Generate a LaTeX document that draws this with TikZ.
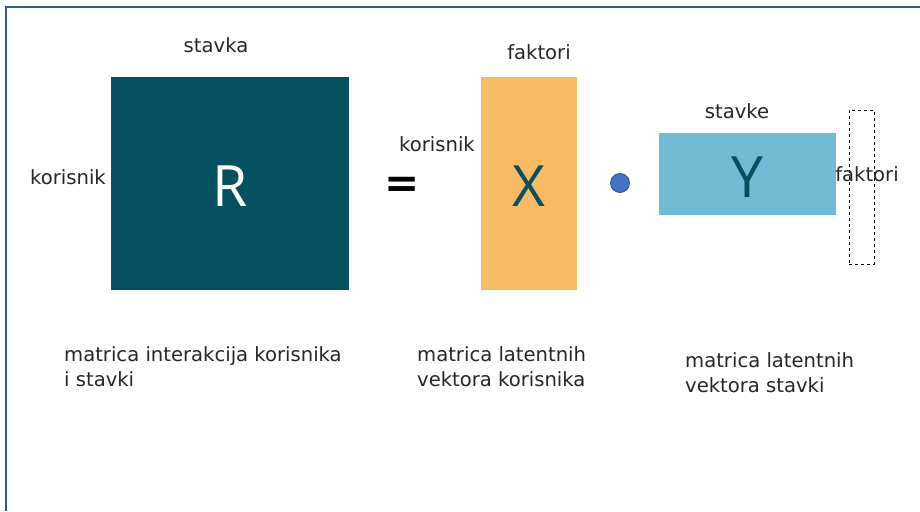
\documentclass[tikz,border=0pt]{standalone}
\usepackage{fontspec}
\setmainfont{DejaVu Sans}
\newfontfamily\bigletter{Open Sans}
\definecolor{frameteal}{HTML}{2F6070}
\definecolor{rteal}{HTML}{03505F}
\definecolor{xorange}{HTML}{F8BA63}
\definecolor{ycyan}{HTML}{70BCD5}
\definecolor{dotblue}{HTML}{4472C4}
\definecolor{dotedge}{HTML}{2F528F}
\definecolor{txt}{HTML}{262626}
\tikzset{
  lbl/.style={text=txt, font=\fontsize{19.6}{25}\selectfont, inner sep=0pt},
  caption/.style={lbl, align=left, anchor=north west},
  letter/.style={font=\bigletter\fontsize{57}{60}\selectfont, inner sep=0pt},
  mat/.style={draw=none, inner sep=0pt}
}
\begin{document}
\begin{tikzpicture}[x=1pt,y=-1pt]
\useasboundingbox (0,0) rectangle (920,511);
\fill[white] (0,0) rectangle (920,511);
% outer frame (left and top edges)
\draw[frameteal, line width=2pt] (6,511) -- (6,7) -- (920,7);

% interaction matrix R
\node[mat, fill=rteal, minimum width=238pt, minimum height=213pt, anchor=north west] (R) at (111,77) {};
\node[letter, text=white] (Rl) at ([yshift=-2pt]R.center) {R};
\node[lbl] (rtop) at (216,45) {stavka};
\node[lbl] (rleft) at (68,177) {korisnik};

% equals sign
\node[font=\bfseries\fontsize{42}{44}\selectfont, inner sep=0pt] (eq) at (402,187) {=};

% user factor matrix X
\node[mat, fill=xorange, minimum width=96pt, minimum height=213pt, anchor=north west] (X) at (481,77) {};
\node[letter, text=rteal] (Xl) at ([yshift=-2pt]X.center) {X};
\node[lbl] (xtop) at (539,52) {faktori};
\node[lbl] (xleft) at (437,144) {korisnik};

% product dot
\node[circle, fill=dotblue, draw=dotedge, line width=0.8pt, minimum size=19pt, inner sep=0pt] (dot) at (620,183) {};

% item factor matrix Y
\node[mat, fill=ycyan, minimum width=177pt, minimum height=82pt, anchor=north west] (Y) at (659,133) {};
\node[letter, text=rteal] (Yl) at ([yshift=-3pt]Y.center) {Y};
\node[lbl] (ytop) at (737,111) {stavke};
\node[draw=black, dashed, line width=0.8pt, minimum width=25pt, minimum height=154pt, anchor=north west, inner sep=0pt] (col) at (849,110) {};
\node[lbl] (yright) at (867,174) {faktori};

% captions
\node[caption] (c1) at (64,346) {matrica interakcija korisnika\\i stavki};
\node[caption] (c2) at (417,346) {matrica latentnih\\vektora korisnika};
\node[caption] (c3) at (685,352) {matrica latentnih\\vektora stavki};
\end{tikzpicture}
\end{document}
